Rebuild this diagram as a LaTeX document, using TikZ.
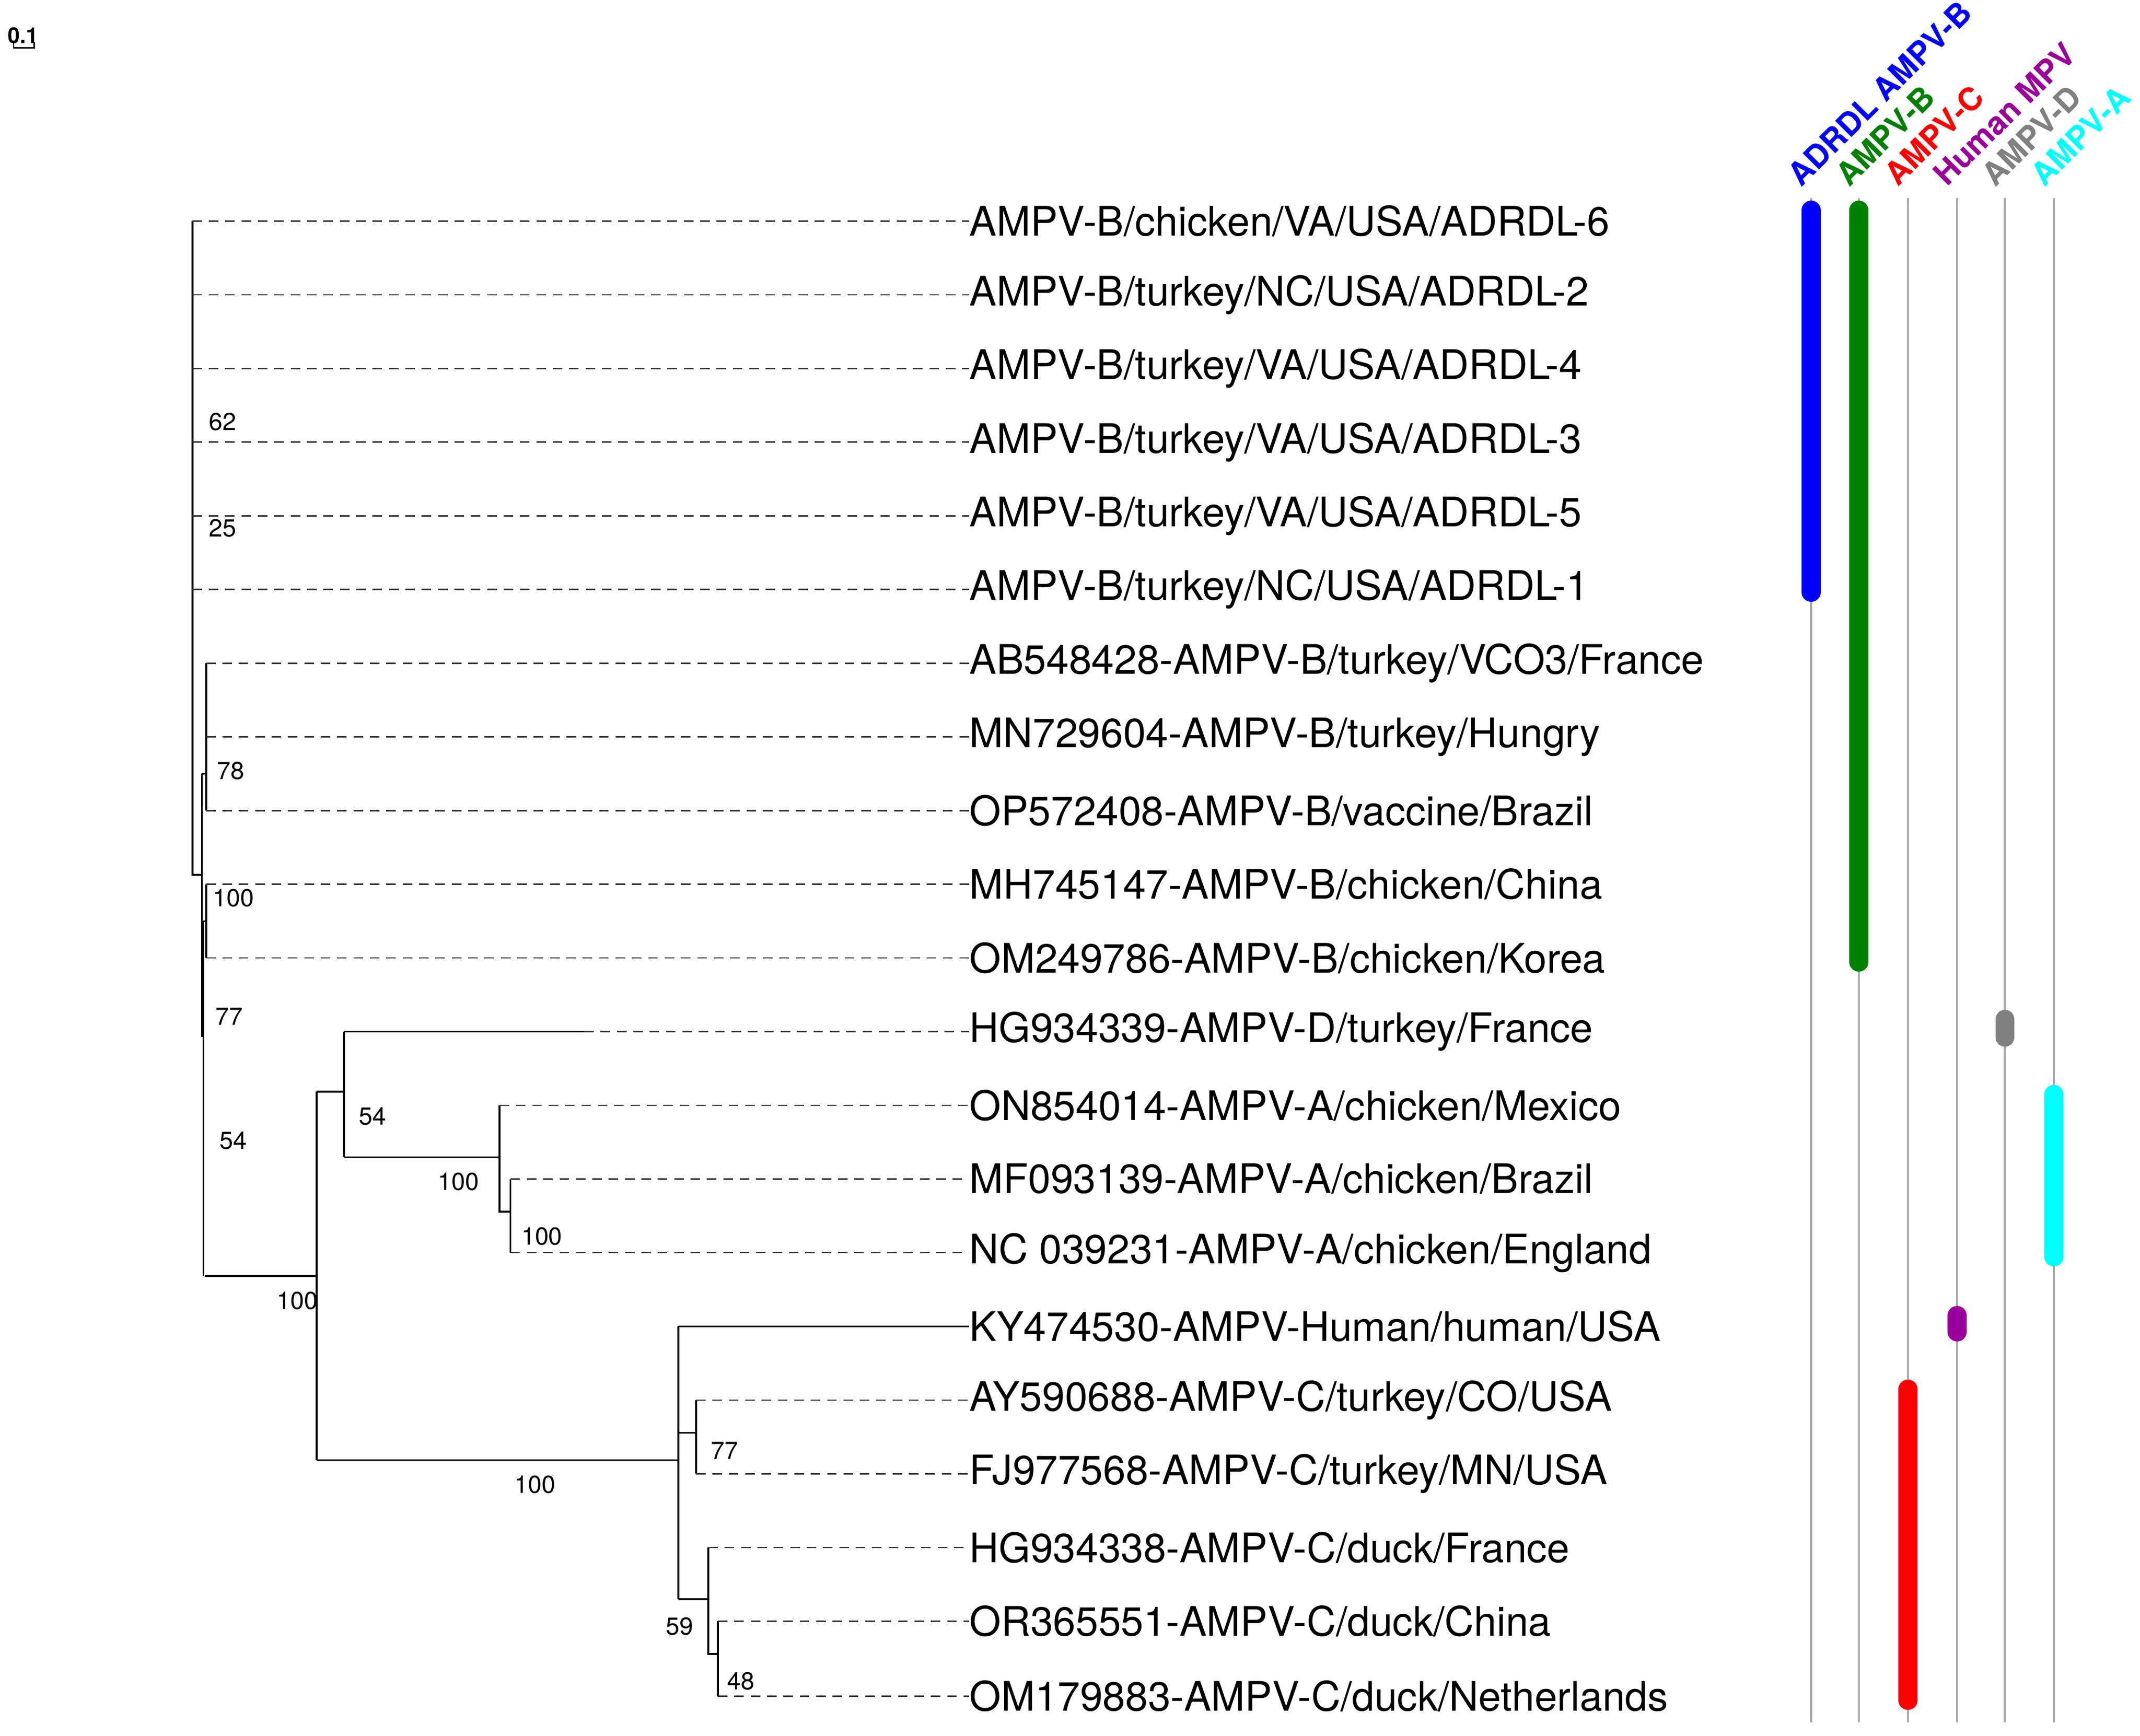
\documentclass[tikz,border=0pt]{standalone}
\usepackage{fontspec}
\setmainfont{TeX Gyre Heros}
\usetikzlibrary{positioning}
\definecolor{dash1}{RGB}{50,50,50}
\definecolor{rail1}{RGB}{170,170,170}
\definecolor{purple1}{RGB}{153,0,153}
\definecolor{gray1}{RGB}{128,128,128}
\definecolor{cyan1}{RGB}{0,255,255}
\definecolor{green1}{RGB}{0,128,0}
\begin{document}
\begin{tikzpicture}[x=0.5pt, y=-0.5pt]

\tikzstyle{tip}		=[anchor=west, inner sep=0pt, font=\fontsize{14.9}{14.9}\selectfont]
\tikzstyle{boot}	=[inner sep=0pt, font=\fontsize{9}{9}\selectfont]
\tikzstyle{branch}	=[line width=0.65pt, black]
\tikzstyle{leaf}	=[line width=0.5pt, draw=dash1, dash pattern=on 3.5pt off 2.5pt]
\tikzstyle{rail}	=[line width=0.8pt, draw=rail1]
\tikzstyle{bar}		=[line width=7pt, line cap=round]
\tikzstyle{clade}	=[anchor=south west, rotate=45, inner sep=0pt, font=\fontsize{11.6}{11.6}\bfseries\selectfont]

\useasboundingbox (0,0) rectangle (1568,1272);

% scale bar
\node[inner sep=0pt, font=\fontsize{8}{8}\bfseries\selectfont] (scale) at (17,26) {0.1};
\draw[line width=0.5pt] (10,31) -- (10,35) -- (25,35) -- (25,31);

% tip labels
\node[tip] (t1)  at (710,162)  {AMPV-B/chicken/VA/USA/ADRDL-6};
\node[tip] (t2)  at (710,216)  {AMPV-B/turkey/NC/USA/ADRDL-2};
\node[tip] (t3)  at (710,270)  {AMPV-B/turkey/VA/USA/ADRDL-4};
\node[tip] (t4)  at (710,324)  {AMPV-B/turkey/VA/USA/ADRDL-3};
\node[tip] (t5)  at (710,378)  {AMPV-B/turkey/VA/USA/ADRDL-5};
\node[tip] (t6)  at (710,432)  {AMPV-B/turkey/NC/USA/ADRDL-1};
\node[tip] (t7)  at (710,486)  {AB548428-AMPV-B/turkey/VCO3/France};
\node[tip] (t8)  at (710,540)  {MN729604-AMPV-B/turkey/Hungry};
\node[tip] (t9)  at (710,594)  {OP572408-AMPV-B/vaccine/Brazil};
\node[tip] (t10) at (710,648)  {MH745147-AMPV-B/chicken/China};
\node[tip] (t11) at (710,702)  {OM249786-AMPV-B/chicken/Korea};
\node[tip] (t12) at (710,756)  {HG934339-AMPV-D/turkey/France};
\node[tip] (t13) at (710,810)  {ON854014-AMPV-A/chicken/Mexico};
\node[tip] (t14) at (710,864)  {MF093139-AMPV-A/chicken/Brazil};
\node[tip] (t15) at (710,918)  {NC 039231-AMPV-A/chicken/England};
\node[tip] (t16) at (710,972)  {KY474530-AMPV-Human/human/USA};
\node[tip] (t17) at (710,1026) {AY590688-AMPV-C/turkey/CO/USA};
\node[tip] (t18) at (710,1080) {FJ977568-AMPV-C/turkey/MN/USA};
\node[tip] (t19) at (710,1134) {HG934338-AMPV-C/duck/France};
\node[tip] (t20) at (710,1188) {OR365551-AMPV-C/duck/China};
\node[tip] (t21) at (710,1243) {OM179883-AMPV-C/duck/Netherlands};

% internal nodes
\coordinate (root) at (141,641);
\coordinate (nb)   at (148,641);
\coordinate (n78)  at (151,567);
\coordinate (n100) at (151,675);
\coordinate (n54)  at (150,935);
\coordinate (nad)  at (232,935);
\coordinate (nd)   at (252,800);
\coordinate (na)   at (366,848);
\coordinate (na2)  at (374,888);
\coordinate (nhc)  at (497,1070);
\coordinate (nc1)  at (510,1050);
\coordinate (nc2)  at (519,1172);
\coordinate (nc3)  at (526,1212);

% backbone
\draw[branch] (root |- t1) -- (root) -- (nb);
\draw[branch] (nb |- n78) -- (nb |- 0,760);
\draw[branch] (nb |- n78) -- (n78);
\draw[branch] (n78 |- t7) -- (n78 |- t9);
\draw[branch] (n100 |- t10) -- (n100 |- t11);
\draw[branch] (149,675) -- (n100);
\draw[branch] (149,675) -- (149,935);
\draw[branch] (n54) -- (nad);
\draw[branch] (nad |- nd) -- (nad |- nhc);
\draw[branch] (nad |- nd) -- (nd);
\draw[branch] (nd |- t12) -- (nd |- na);
\draw[branch] (nd |- na) -- (na);
\draw[branch] (na |- t13) -- (na |- na2) -- (na2);
\draw[branch] (na2 |- t14) -- (na2 |- t15);
\draw[branch] (nad |- nhc) -- (nhc);
\draw[branch] (nhc |- t16) -- (nhc |- nc2);
\draw[branch] (nhc |- nc1) -- (nc1);
\draw[branch] (nc1 |- t17) -- (nc1 |- t18);
\draw[branch] (nhc |- nc2) -- (nc2);
\draw[branch] (nc2 |- t19) -- (nc2 |- nc3) -- (nc3);
\draw[branch] (nc3 |- t20) -- (nc3 |- t21);

% leaves
\draw[leaf] (root |- t1)  -- (t1.west);
\draw[leaf] (root |- t2)  -- (t2.west);
\draw[leaf] (root |- t3)  -- (t3.west);
\draw[leaf] (root |- t4)  -- (t4.west);
\draw[leaf] (root |- t5)  -- (t5.west);
\draw[leaf] (root |- t6)  -- (t6.west);
\draw[leaf] (n78 |- t7)   -- (t7.west);
\draw[leaf] (n78 |- t8)   -- (t8.west);
\draw[leaf] (n78 |- t9)   -- (t9.west);
\draw[leaf] (n100 |- t10) -- (t10.west);
\draw[leaf] (n100 |- t11) -- (t11.west);
\draw[branch] (nd |- t12) -- (428,756);
\draw[leaf] (428,756)     -- (t12.west);
\draw[leaf] (na |- t13)   -- (t13.west);
\draw[leaf] (na2 |- t14)  -- (t14.west);
\draw[leaf] (na2 |- t15)  -- (t15.west);
\draw[branch] (nhc |- t16) -- (t16.west);
\draw[leaf] (nc1 |- t17)  -- (t17.west);
\draw[leaf] (nc1 |- t18)  -- (t18.west);
\draw[leaf] (nc2 |- t19)  -- (t19.west);
\draw[leaf] (nc3 |- t20)  -- (t20.west);
\draw[leaf] (nc3 |- t21)  -- (t21.west);

% bootstrap values
\node[boot] (b62)  at (163,309)  {62};
\node[boot] (b25)  at (163,387)  {25};
\node[boot] (b78)  at (169,565)  {78};
\node[boot] (b100) at (171,658)  {100};
\node[boot] (b77)  at (168,745)  {77};
\node[boot] (b54)  at (171,836)  {54};
\node[boot] (b100b) at (218,953) {100};
\node[boot] (b54b) at (273,818)  {54};
\node[boot] (b100c) at (336,866) {100};
\node[boot] (b100d) at (397,906) {100};
\node[boot] (b100e) at (392,1088) {100};
\node[boot] (b77b) at (531,1063) {77};
\node[boot] (b59)  at (498,1192) {59};
\node[boot] (b48)  at (543,1232) {48};

% clade rails
\draw[rail] (1327,145) -- (1327,1262);
\draw[rail] (1362,145) -- (1362,1262);
\draw[rail] (1398,145) -- (1398,1262);
\draw[rail] (1434,145) -- (1434,1262);
\draw[rail] (1469,145) -- (1469,1262);
\draw[rail] (1505,145) -- (1505,1262);

\draw[bar, blue]    (1327,154) -- (1327,434);
\draw[bar, green1]  (1362,154) -- (1362,705);
\draw[bar, red]     (1398,1018) -- (1398,1246);
\draw[bar, purple1] (1434,964) -- (1434,976);
\draw[bar, gray1]   (1469,747) -- (1469,760);
\draw[bar, cyan1]   (1505,802) -- (1505,921);

\node[clade, text=blue]    (cadrdl) at (1320,138) {ADRDL AMPV-B};
\node[clade, text=green1]  (cb)     at (1355,138) {AMPV-B};
\node[clade, text=red]     (cc)     at (1391,138) {AMPV-C};
\node[clade, text=purple1] (ch)     at (1427,138) {Human MPV};
\node[clade, text=gray1]   (cd)     at (1462,138) {AMPV-D};
\node[clade, text=cyan1]   (ca)     at (1498,138) {AMPV-A};

\end{tikzpicture}
\end{document}
